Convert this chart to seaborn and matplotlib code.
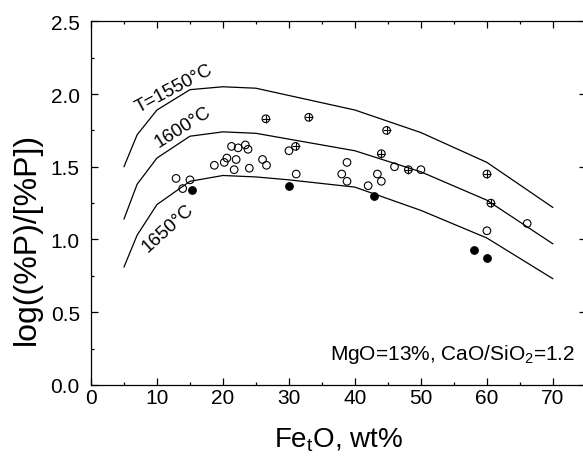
import matplotlib
matplotlib.use('Agg')
import matplotlib.pyplot as plt
import pandas as pd
import seaborn as sns
from matplotlib.ticker import MultipleLocator

# model curves: Fe_tO (wt%) vs log((%P)/[%P])
feo_model = [5, 7, 10, 15, 20, 25, 30, 40, 50, 60, 70]
lp_1550 = [1.50, 1.72, 1.89, 2.03, 2.05, 2.04, 1.99, 1.89, 1.735, 1.53, 1.22]
lp_1600 = [1.14, 1.38, 1.56, 1.71, 1.74, 1.73, 1.69, 1.61, 1.465, 1.27, 0.97]
lp_1650 = [0.81, 1.03, 1.24, 1.40, 1.44, 1.43, 1.41, 1.36, 1.20, 1.01, 0.73]

# measured points
open_x = [12.9, 13.9, 15.0, 18.7, 20.2, 20.6, 21.3, 22.3, 23.4, 23.8, 22.0, 21.7, 24.0, 26.0,
          26.6, 30.0, 31.1, 38.0, 38.8, 38.8, 42.0, 43.4, 44.0, 46.0, 50.0, 60.0, 66.1]
open_y = [1.42, 1.35, 1.41, 1.51, 1.53, 1.56, 1.64, 1.63, 1.65, 1.62, 1.55, 1.48, 1.49, 1.55,
          1.51, 1.61, 1.45, 1.45, 1.53, 1.40, 1.37, 1.45, 1.40, 1.50, 1.48, 1.06, 1.11]
filled_x = [15.3, 30.0, 42.9, 58.0, 60.0]
filled_y = [1.34, 1.37, 1.30, 0.93, 0.87]
cross_x = [26.5, 31.0, 33.0, 44.0, 44.8, 48.1, 60.0, 60.6]
cross_y = [1.83, 1.64, 1.84, 1.59, 1.75, 1.48, 1.45, 1.25]

sns.set_style('ticks')
plt.rcParams['font.family'] = ['Liberation Sans', 'DejaVu Sans']
plt.rcParams['mathtext.fontset'] = 'custom'
plt.rcParams['mathtext.rm'] = 'Liberation Sans'
plt.rcParams['mathtext.it'] = 'Liberation Sans:italic'
for k in ['text.color', 'axes.labelcolor', 'xtick.color', 'ytick.color', 'axes.edgecolor']:
    plt.rcParams[k] = 'black'

curves = pd.DataFrame({
    'feo': feo_model * 3,
    'lp': lp_1550 + lp_1600 + lp_1650,
    'T': ['1550'] * len(feo_model) + ['1600'] * len(feo_model) + ['1650'] * len(feo_model),
})

fig = plt.figure(figsize=(5.83, 4.60), dpi=100)
ax = fig.add_axes([0.156, 0.161, 0.849, 0.7905])

sns.lineplot(data=curves, x='feo', y='lp', units='T', estimator=None,
             color='black', lw=0.9, ax=ax, legend=False)

sns.scatterplot(x=open_x, y=open_y, marker='o', s=30, facecolor='none',
                edgecolor='black', linewidth=0.8, ax=ax)
sns.scatterplot(x=filled_x, y=filled_y, marker='o', s=30, color='black',
                edgecolor='black', linewidth=0.8, ax=ax)
sns.scatterplot(x=cross_x, y=cross_y, marker='o', s=30, facecolor='none',
                edgecolor='black', linewidth=0.8, ax=ax)
sns.scatterplot(x=cross_x, y=cross_y, marker='+', s=30, color='black',
                linewidth=0.8, ax=ax)

ax.text(12.6, 2.04, 'T=1550°C', rotation=28, ha='center', va='center', fontsize=13.5)
ax.text(14.0, 1.78, '1600°C', rotation=32, ha='center', va='center', fontsize=13.5)
ax.text(11.6, 1.085, '1650°C', rotation=42, ha='center', va='center', fontsize=13.5)
ax.text(36.2, 0.18, 'MgO=13%, CaO/SiO$_2$=1.2', fontsize=15, ha='left', va='baseline')

ax.set_xlim(0, 75)
ax.set_ylim(0, 2.5)
ax.xaxis.set_major_locator(MultipleLocator(10))
ax.xaxis.set_minor_locator(MultipleLocator(5))
ax.yaxis.set_major_locator(MultipleLocator(0.5))
ax.yaxis.set_minor_locator(MultipleLocator(0.25))
ax.yaxis.set_major_formatter(matplotlib.ticker.FormatStrFormatter('%.1f'))
ax.tick_params(which='both', direction='in', top=True, right=True, width=0.9)
ax.tick_params(which='major', length=5, labelsize=15)
ax.tick_params(axis='y', which='major', pad=8)
ax.tick_params(axis='x', which='major', pad=2.5)
ax.tick_params(which='minor', length=2.5)
for sp in ax.spines.values():
    sp.set_linewidth(0.9)

ax.set_xlabel('Fe$_\\mathrm{t}$O, wt%', fontsize=20, labelpad=13)
ax.set_ylabel('log((%P)/[%P])', fontsize=23)
ax.yaxis.set_label_coords(-0.099, 0.404)

fig.savefig('out.png', dpi=100)
